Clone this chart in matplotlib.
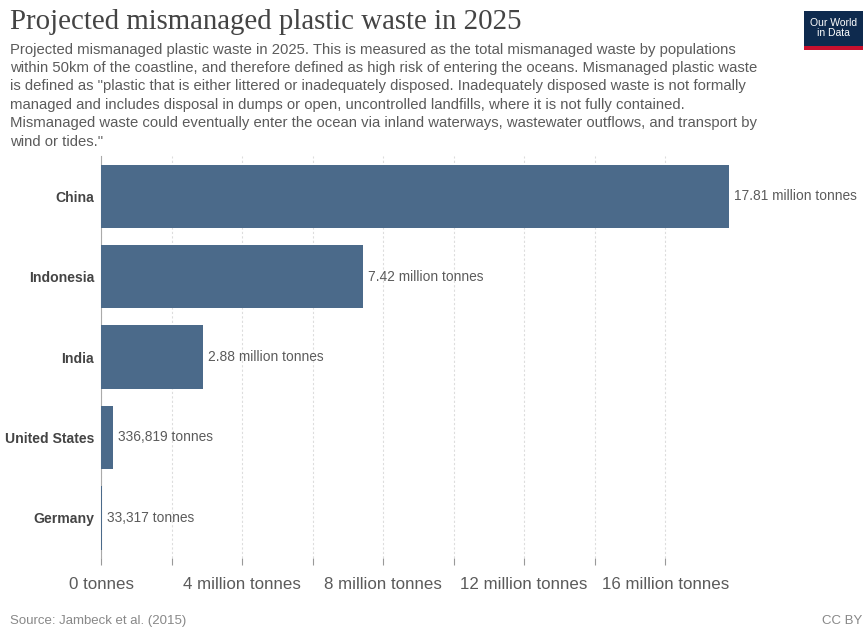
import matplotlib.pyplot as plt
from matplotlib.ticker import FuncFormatter, FixedLocator
from matplotlib.patches import Rectangle

# ------------------------ #
# DATA
# ------------------------ #

countries = ["China", "Indonesia", "India", "United States", "Germany"]
waste_tonnes = [17.81e6, 7.42e6, 2.88e6, 336819, 33317]
value_labels = [
    "17.81 million tonnes",
    "7.42 million tonnes",
    "2.88 million tonnes",
    "336,819 tonnes",
    "33,317 tonnes",
]

title = "Projected mismanaged plastic waste in 2025"
subtitle = (
    "Projected mismanaged plastic waste in 2025. This is measured as the total mismanaged waste by populations\n"
    "within 50km of the coastline, and therefore defined as high risk of entering the oceans. Mismanaged plastic waste\n"
    "is defined as \"plastic that is either littered or inadequately disposed. Inadequately disposed waste is not formally\n"
    "managed and includes disposal in dumps or open, uncontrolled landfills, where it is not fully contained.\n"
    "Mismanaged waste could eventually enter the ocean via inland waterways, wastewater outflows, and transport by\n"
    "wind or tides.\""
)
source = "Source: Jambeck et al. (2015)"

bar_color = "#4b6a8a"
text_grey = "#5b5b5b"

plt.rcParams["font.family"] = ["Liberation Sans", "DejaVu Sans"]

# ------------------------ #
# PLOTTING
# ------------------------ #

fig = plt.figure(figsize=(8.67, 6.27), dpi=100)
ax = fig.add_axes([0.1165, 0.110, 0.732, 0.641])

ypos = list(range(len(countries)))
ax.barh(ypos, waste_tonnes, height=0.79, color=bar_color, zorder=3)

for y, val, lab in zip(ypos, waste_tonnes, value_labels):
    ax.text(val + 1.5e5, y, lab, va="center", ha="left", fontsize=9.9, color=text_grey)

ax.set_ylim(len(countries) - 0.5, -0.5)
ax.set_xlim(0, 18e6)
ax.set_yticks(ypos)
ax.set_yticklabels(countries, fontsize=10.1, fontweight="bold", color="#444444")
ax.tick_params(axis="y", length=0, pad=5)

# x axis in million tonnes, ticks every 2M up to 16M, labels every 4M
ax.xaxis.set_major_locator(FixedLocator([i * 2e6 for i in range(9)]))
ax.xaxis.set_major_formatter(FuncFormatter(
    lambda val, pos: "0 tonnes" if val == 0 else
    (f"{val/1e6:.0f} million tonnes" if round(val / 1e6) % 4 == 0 else "")
))
ax.tick_params(axis="x", length=5, width=0.8, color="#999999", pad=9,
               labelsize=12.2, labelcolor=text_grey)

ax.grid(axis="x", color="#dddddd", linestyle=(0, (2, 2)), linewidth=0.8, zorder=0)
for side in ["top", "right", "bottom"]:
    ax.spines[side].set_visible(False)
ax.spines["left"].set_color("#aaaaaa")
ax.spines["left"].set_linewidth(0.8)

# header
fig.text(0.012, 0.965, title, fontsize=20.8, family="Liberation Serif",
         color="#444444", va="center")
fig.text(0.012, 0.932, subtitle, fontsize=10.7, color=text_grey, va="top",
         linespacing=1.4)

# logo
fig.patches.append(Rectangle((0.927, 0.925), 0.068, 0.058, transform=fig.transFigure,
                             facecolor="#0e2a4e", edgecolor="none"))
fig.patches.append(Rectangle((0.927, 0.920), 0.068, 0.006, transform=fig.transFigure,
                             facecolor="#c8102e", edgecolor="none"))
fig.text(0.961, 0.955, "Our World\nin Data", fontsize=7.5, color="white",
         ha="center", va="center", linespacing=1.0)

# footer
fig.text(0.012, 0.0, source, fontsize=9.5, color="#888888", va="bottom")
fig.text(0.995, 0.0, "CC BY", fontsize=9.5, color="#888888", va="bottom", ha="right")

plt.savefig("out.png", dpi=100)
